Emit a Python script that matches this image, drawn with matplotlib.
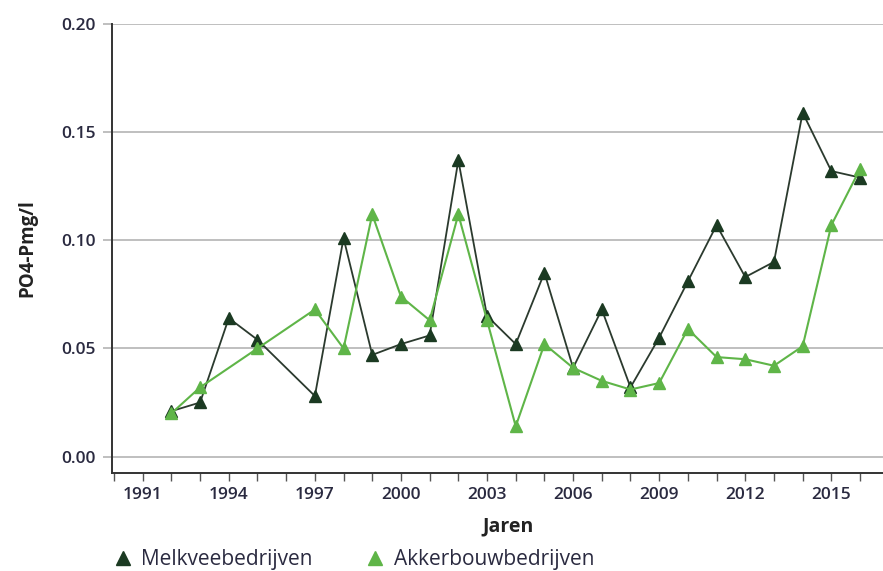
import numpy as np
import matplotlib
matplotlib.use('Agg')
from matplotlib import pyplot as plt
from matplotlib.ticker import MultipleLocator

plt.rcParams['font.family'] = ['Open Sans', 'DejaVu Sans']

melk_jaren = [1992, 1993, 1994, 1995, 1997, 1998, 1999, 2000, 2001, 2002, 2003, 2004,
              2005, 2006, 2007, 2008, 2009, 2010, 2011, 2012, 2013, 2014, 2015, 2016]
melk = [0.021, 0.025, 0.064, 0.054, 0.028, 0.101, 0.047, 0.052, 0.056, 0.137, 0.065, 0.052,
        0.085, 0.041, 0.068, 0.032, 0.055, 0.081, 0.107, 0.083, 0.090, 0.159, 0.132, 0.129]

akker_jaren = [1992, 1993, 1995, 1997, 1998, 1999, 2000, 2001, 2002, 2003, 2004, 2005,
               2006, 2007, 2008, 2009, 2010, 2011, 2012, 2013, 2014, 2015, 2016]
akker = [0.020, 0.032, 0.050, 0.068, 0.050, 0.112, 0.074, 0.063, 0.112, 0.063, 0.014, 0.052,
         0.041, 0.035, 0.031, 0.034, 0.059, 0.046, 0.045, 0.042, 0.051, 0.107, 0.133]

dark = '#1b3a22'
light = '#5fb548'
tekst = '#2a2a40'

fig = plt.figure(figsize=(8.83, 5.71), dpi=100)
ax = fig.add_axes([112 / 883, 98 / 571, 771 / 883, 449 / 571])

ax.plot(melk_jaren, melk, color='#2b3a2e', lw=1.3, marker='^', ms=9,
        mfc=dark, mec=dark, label='Melkveebedrijven', zorder=3)
ax.plot(akker_jaren, akker, color=light, lw=1.5, marker='^', ms=9,
        mfc=light, mec=light, label='Akkerbouwbedrijven', zorder=4)

ax.set_xlim(1989.93, 2016.8)
ax.set_ylim(-0.0076, 0.2)
ax.set_yticks([0.0, 0.05, 0.10, 0.15, 0.20])
ax.set_yticklabels(['0.00', '0.05', '0.10', '0.15', '0.20'])
ax.xaxis.set_minor_locator(MultipleLocator(1))
ax.set_xticks(range(1991, 2016, 3))
ax.grid(axis='y', color='#b4b4b4', lw=1.2)
ax.set_axisbelow(True)

for s in ['top', 'right']:
    ax.spines[s].set_visible(False)
ax.spines['left'].set_color('#333333')
ax.spines['bottom'].set_color('#333333')
ax.spines['left'].set_linewidth(1.4)
ax.spines['bottom'].set_linewidth(1.4)

ax.tick_params(axis='y', length=6.5, color='#b4b4b4', width=1.2, labelsize=12.5,
               labelcolor=tekst, pad=5)
ax.tick_params(axis='x', which='both', length=6, color='#555555', width=1,
               labelsize=12.5, labelcolor=tekst, pad=4)
for t in ax.get_xticklabels() + ax.get_yticklabels():
    t.set_fontweight('semibold')

ax.set_xlabel('Jaren', fontsize=14, fontweight='bold', color='#222222')
ax.xaxis.set_label_coords(0.514, -0.096)
ax.set_ylabel('PO4-Pmg/l', fontsize=13.5, fontweight='bold', color='#222222')
ax.yaxis.set_label_coords(-0.097, 0.5)

handles = [plt.Line2D([], [], ls='none', marker='^', ms=10, color=dark),
           plt.Line2D([], [], ls='none', marker='^', ms=10, color=light)]
fig.legend(handles, ['Melkveebedrijven', 'Akkerbouwbedrijven'], loc='center left',
           bbox_to_anchor=(110 / 883, 1 - 560 / 571), ncol=2, frameon=False, fontsize=15,
           handletextpad=0.3, columnspacing=2.4, handlelength=1.2,
           borderpad=0, borderaxespad=0, labelcolor='#2a2a40')

fig.savefig('out.png', dpi=100)
